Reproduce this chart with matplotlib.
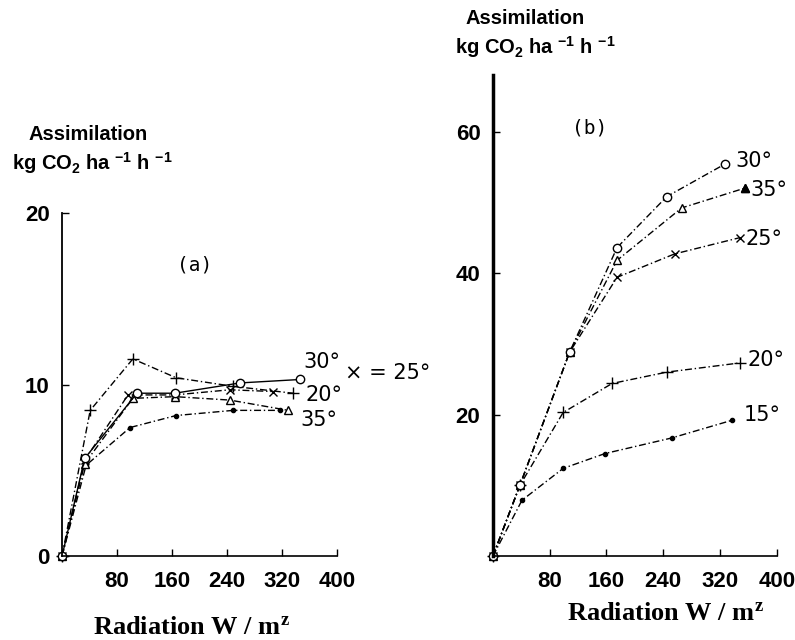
import matplotlib
matplotlib.use("Agg")
import matplotlib.pyplot as plt

plt.rcParams['mathtext.default'] = 'regular'

# panel (a): radiation (W/m2) and assimilation (kg CO2/ha/h) per temperature
rad_a_30 = [0, 33, 109, 164, 259, 346]
ass_a_30 = [0, 5.7, 9.5, 9.5, 10.1, 10.3]
rad_a_25 = [0, 33, 96, 164, 244, 307]
ass_a_25 = [0, 5.6, 9.4, 9.4, 9.7, 9.6]
rad_a_20 = [0, 41, 103, 166, 249, 336]
ass_a_20 = [0, 8.5, 11.5, 10.4, 9.9, 9.5]
rad_a_35 = [0, 33, 103, 164, 244, 329]
ass_a_35 = [0, 5.4, 9.2, 9.3, 9.1, 8.5]
rad_a_15 = [0, 35, 99, 166, 249, 317]
ass_a_15 = [0, 5.3, 7.5, 8.2, 8.5, 8.5]

# panel (b)
rad_b_30 = [0, 38, 108, 175, 245, 327]
ass_b_30 = [0, 10.0, 28.8, 43.6, 50.8, 55.4]
rad_b_35 = [0, 38, 108, 175, 266, 355]
ass_b_35 = [0, 10.0, 28.8, 41.8, 49.2, 52.0]
rad_b_25 = [0, 38, 108, 175, 256, 348]
ass_b_25 = [0, 10.0, 28.8, 39.4, 42.7, 45.0]
rad_b_20 = [0, 38, 99, 168, 245, 348]
ass_b_20 = [0, 10.0, 20.3, 24.4, 26.0, 27.3]
rad_b_15 = [0, 41, 99, 158, 252, 337]
ass_b_15 = [0, 7.9, 12.4, 14.5, 16.7, 19.2]

xticks = [80, 160, 240, 320, 400]
yticks_a = [0, 10, 20]
yticks_b = [20, 40, 60]

dashdot = (0, (5, 2, 1, 2))
tickfont = dict(family='Liberation Sans', weight='bold', size=16)
curvefont = dict(family='DejaVu Sans', size=15)

fig = plt.figure(figsize=(7.95, 6.4), dpi=100)
ax_a = fig.add_axes([0.078, 0.131, 0.346, 0.536])
ax_b = fig.add_axes([0.620, 0.131, 0.357, 0.752])


def style_axes(ax, ylim, yticks, ylw):
    ax.set_xlim(0, 400)
    ax.set_ylim(*ylim)
    for s in ['top', 'right']:
        ax.spines[s].set_visible(False)
    ax.spines['left'].set_linewidth(ylw)
    ax.spines['bottom'].set_linewidth(1.2)
    ax.set_xticks(xticks)
    ax.set_yticks(yticks)
    ax.tick_params(axis='x', direction='in', length=5, width=1, pad=11)
    ax.tick_params(axis='y', direction='in', length=5, width=1, pad=9)
    for lab in ax.get_xticklabels() + ax.get_yticklabels():
        lab.set_fontproperties(tickfont)


def curve(ax, x, y, marker, ls=dashdot, mfc='white', ms=6, last_mfc=None):
    ax.plot(x, y, color='black', lw=1, linestyle=ls, marker=marker,
            mfc=mfc, mec='black', ms=ms, clip_on=False)
    if last_mfc:
        ax.plot(x[-1:], y[-1:], marker=marker, color='black', ms=ms,
                mfc=last_mfc, clip_on=False)


def label(ax, x, y, text, dx, dy):
    ax.annotate(text, xy=(x[-1], y[-1]), xytext=(dx, dy),
                textcoords='offset pixels', ha='left', va='center', **curvefont)


# ---- panel (a)
style_axes(ax_a, (0, 20), yticks_a, 1.3)
curve(ax_a, rad_a_15, ass_a_15, '.', mfc='black', ms=6)
curve(ax_a, rad_a_35, ass_a_35, '^', ms=6)
curve(ax_a, rad_a_20, ass_a_20, '+', ms=8)
curve(ax_a, rad_a_25, ass_a_25, 'x', ms=6)
curve(ax_a, rad_a_30, ass_a_30, 'o', ls='-', ms=6)
label(ax_a, rad_a_30, ass_a_30, '30°', 3, 17)
label(ax_a, rad_a_20, ass_a_20, '20°', 12, -2)
label(ax_a, rad_a_25, ass_a_25, '× = 25°', 72, 19)
label(ax_a, rad_a_35, ass_a_35, '35°', 12, -10)
ax_a.text(193, 17.0, '(a)', ha='center', va='center', family='DejaVu Sans Mono', size=14)

# ---- panel (b)
style_axes(ax_b, (0, 68), yticks_b, 2.5)
curve(ax_b, rad_b_15, ass_b_15, '.', mfc='black', ms=6)
curve(ax_b, rad_b_20, ass_b_20, '+', ms=8)
curve(ax_b, rad_b_25, ass_b_25, 'x', ms=6)
curve(ax_b, rad_b_35, ass_b_35, '^', ms=6, last_mfc='black')
curve(ax_b, rad_b_30, ass_b_30, 'o', ms=6)
label(ax_b, rad_b_30, ass_b_30, '30°', 10, 3)
label(ax_b, rad_b_35, ass_b_35, '35°', 6, -2)
label(ax_b, rad_b_25, ass_b_25, '25°', 6, -1)
label(ax_b, rad_b_20, ass_b_20, '20°', 8, 3)
label(ax_b, rad_b_15, ass_b_15, '15°', 12, 5)
ax_b.text(137, 60.5, '(b)', ha='center', va='center', family='DejaVu Sans Mono', size=14)

# axis titles
ylab1 = 'Assimilation'
ylab2 = r'kg CO$_2$ ha $^{-1}$ h $^{-1}$'
xlab = r'Radiation W / m$^{z}$'
lab_font = dict(family='Liberation Sans', weight='bold', size=14.5)
fig.text(88 / 795, 1 - 135 / 640, ylab1, ha='center', va='center', **lab_font)
fig.text(92 / 795, 1 - 163 / 640, ylab2, ha='center', va='center', **lab_font)
fig.text(525 / 795, 1 - 18 / 640, ylab1, ha='center', va='center', **lab_font)
fig.text(535 / 795, 1 - 47 / 640, ylab2, ha='center', va='center', **lab_font)
xfont = dict(family='Liberation Serif', weight='bold', size=19)
fig.text(191 / 795, 1 - 628 / 640, xlab, ha='center', va='center', **xfont)
fig.text(665 / 795, 1 - 613 / 640, xlab, ha='center', va='center', **xfont)

fig.savefig('out.png', dpi=100)
